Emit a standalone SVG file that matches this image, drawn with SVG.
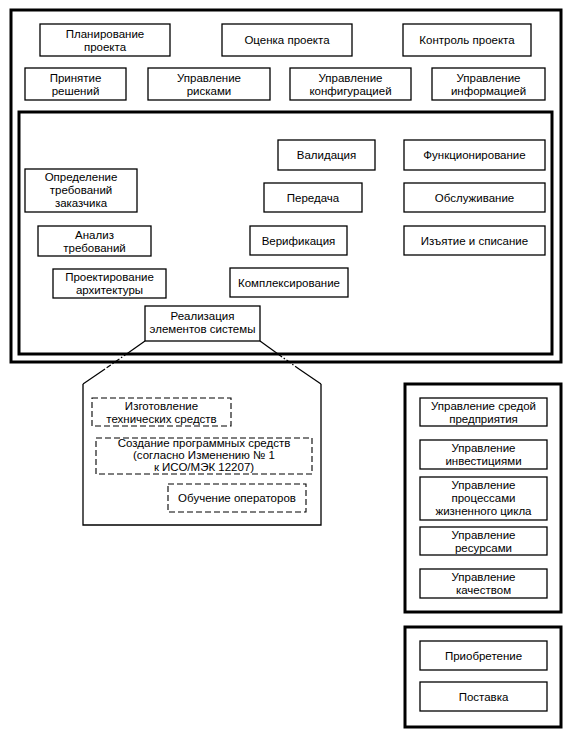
<svg xmlns="http://www.w3.org/2000/svg" width="570" height="736" viewBox="0 0 570 736">
<style>
.frame{fill:none;stroke:#000;stroke-width:3}
.box{fill:#fff;stroke:#000;stroke-width:1.3}
.dbox{fill:#fff;stroke:#000;stroke-width:1.1;stroke-dasharray:6,3}
text{font-family:"Liberation Sans",Arial,sans-serif;font-size:11.5px;text-anchor:middle;fill:#000}
.conn{fill:none;stroke:#000;stroke-width:1.2}
.connd{fill:none;stroke:#000;stroke-width:1.2;stroke-dasharray:5,2,1.5,2}
</style>
<rect x="0" y="0" width="570" height="736" fill="#fff"/>
<g id="outer-frame"><rect class="frame" x="11" y="10" width="550" height="352"/></g>
<g id="inner-frame"><rect class="frame" x="19" y="112" width="533" height="242"/></g>

<g id="n-plan"><rect class="box" x="40" y="24" width="130" height="32"/><text x="105" y="37.5">Планирование</text><text x="105" y="50.5">проекта</text></g>
<g id="n-ocenka"><rect class="box" x="222" y="24" width="130" height="32"/><text x="287" y="44">Оценка проекта</text></g>
<g id="n-kontrol"><rect class="box" x="403" y="24" width="128" height="32"/><text x="467" y="44">Контроль проекта</text></g>
<g id="n-prinyatie"><rect class="box" x="25" y="68" width="101" height="32"/><text x="75.5" y="81.5">Принятие</text><text x="75.5" y="94.5">решений</text></g>
<g id="n-riski"><rect class="box" x="148" y="68" width="122" height="32"/><text x="209" y="81.5">Управление</text><text x="209" y="94.5">рисками</text></g>
<g id="n-konfig"><rect class="box" x="290" y="68" width="121" height="32"/><text x="350.5" y="81.5">Управление</text><text x="350.5" y="94.5">конфигурацией</text></g>
<g id="n-inform"><rect class="box" x="432" y="68" width="113" height="32"/><text x="488.5" y="81.5">Управление</text><text x="488.5" y="94.5">информацией</text></g>

<g id="n-validaciya"><rect class="box" x="278" y="140" width="97" height="30"/><text x="326.5" y="159">Валидация</text></g>
<g id="n-funkc"><rect class="box" x="404" y="140" width="141" height="30"/><text x="474.5" y="159">Функционирование</text></g>
<g id="n-opred"><rect class="box" x="25" y="169" width="112" height="43"/><text x="81" y="181">Определение</text><text x="81" y="194">требований</text><text x="81" y="207">заказчика</text></g>
<g id="n-peredacha"><rect class="box" x="264" y="183" width="98" height="29"/><text x="313" y="201.5">Передача</text></g>
<g id="n-obsl"><rect class="box" x="404" y="183" width="141" height="29"/><text x="474.5" y="201.5">Обслуживание</text></g>
<g id="n-analiz"><rect class="box" x="38" y="226" width="113" height="30"/><text x="94.5" y="238.5">Анализ</text><text x="94.5" y="251.5">требований</text></g>
<g id="n-verif"><rect class="box" x="250" y="226" width="97" height="29"/><text x="298.5" y="244.5">Верификация</text></g>
<g id="n-izyatie"><rect class="box" x="404" y="226" width="141" height="29"/><text x="474.5" y="244.5">Изъятие и списание</text></g>
<g id="n-proekt"><rect class="box" x="53" y="269" width="113" height="29"/><text x="109.5" y="281">Проектирование</text><text x="109.5" y="294">архитектуры</text></g>
<g id="n-kompl"><rect class="box" x="230" y="268" width="118" height="29"/><text x="289" y="286.5">Комплексирование</text></g>
<g id="n-realiz"><rect class="box" x="145" y="306" width="115" height="35"/><text x="202.5" y="320">Реализация</text><text x="202.5" y="333">элементов системы</text></g>

<g id="connectors">
<path class="conn" d="M145,341 L128,353"/>
<path class="connd" d="M128,353 L105,369"/>
<path class="conn" d="M105,369 L83,384"/>
<path class="conn" d="M260,341 L278,354"/>
<path class="connd" d="M278,354 L299,369"/>
<path class="conn" d="M299,369 L321,384"/>
</g>

<g id="n-expansion"><path class="box" d="M83,384 L83,525 L321,525 L321,384" style="fill:none"/></g>
<g id="n-izgotovlenie"><rect class="dbox" x="92" y="398" width="139" height="28"/><text x="161.5" y="409.5">Изготовление</text><text x="161.5" y="422.5">технических средств</text></g>
<g id="n-sozdanie"><rect class="dbox" x="96" y="438" width="216" height="36"/><text x="204" y="447">Создание программных средств</text><text x="204" y="459">(согласно Изменению № 1</text><text x="204" y="471">к ИСО/МЭК 12207)</text></g>
<g id="n-obuchenie"><rect class="dbox" x="168" y="484" width="138" height="28"/><text x="237" y="502">Обучение операторов</text></g>

<g id="right-frame-1"><rect class="frame" x="405" y="384" width="156" height="228"/></g>
<g id="n-sreda"><rect class="box" x="420" y="398" width="127" height="28"/><text x="483.5" y="409.5">Управление средой</text><text x="483.5" y="422.5">предприятия</text></g>
<g id="n-invest"><rect class="box" x="420" y="440" width="127" height="29"/><text x="483.5" y="452">Управление</text><text x="483.5" y="465">инвестициями</text></g>
<g id="n-processy"><rect class="box" x="420" y="477" width="127" height="43"/><text x="483.5" y="489">Управление</text><text x="483.5" y="502">процессами</text><text x="483.5" y="515">жизненного цикла</text></g>
<g id="n-resursy"><rect class="box" x="420" y="527" width="127" height="28"/><text x="483.5" y="539">Управление</text><text x="483.5" y="552">ресурсами</text></g>
<g id="n-kachestvo"><rect class="box" x="420" y="569" width="127" height="29"/><text x="483.5" y="581">Управление</text><text x="483.5" y="594">качеством</text></g>

<g id="right-frame-2"><rect class="frame" x="405" y="627" width="156" height="100"/></g>
<g id="n-priobr"><rect class="box" x="420" y="641" width="127" height="29"/><text x="483.5" y="659.5">Приобретение</text></g>
<g id="n-postavka"><rect class="box" x="420" y="682" width="127" height="29"/><text x="483.5" y="700.5">Поставка</text></g>
</svg>
